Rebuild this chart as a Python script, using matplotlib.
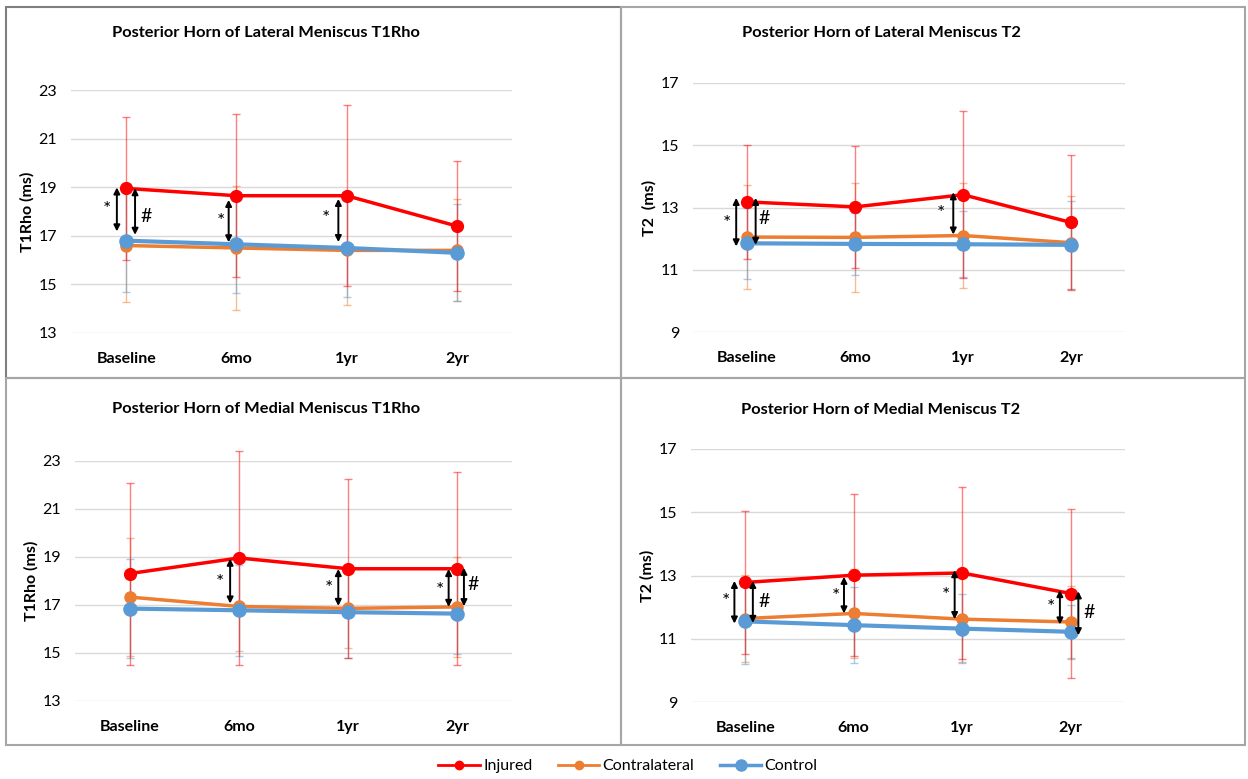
import matplotlib.pyplot as plt
from matplotlib.patches import Rectangle

plt.rcParams['font.family'] = ['Lato', 'DejaVu Sans']

W, H = 1248, 779
cats = ['Baseline', '6mo', '1yr', '2yr']

# Posterior horn of lateral meniscus, T1rho
lat_t1rho_inj = [18.95, 18.65, 18.65, 17.4]
lat_t1rho_inj_sd = [2.95, 3.35, 3.72, 2.67]
lat_t1rho_con = [16.6, 16.5, 16.4, 16.4]
lat_t1rho_con_sd = [2.33, 2.55, 2.24, 2.1]
lat_t1rho_ctl = [16.8, 16.65, 16.5, 16.3]
lat_t1rho_ctl_sd = [2.13, 2.0, 2.0, 2.0]

# Posterior horn of lateral meniscus, T2
lat_t2_inj = [13.18, 13.02, 13.41, 12.52]
lat_t2_inj_sd = [1.82, 1.96, 2.68, 2.18]
lat_t2_con = [12.05, 12.04, 12.1, 11.87]
lat_t2_con_sd = [1.66, 1.75, 1.7, 1.5]
lat_t2_ctl = [11.85, 11.83, 11.82, 11.8]
lat_t2_ctl_sd = [1.15, 1.0, 1.06, 1.42]

# Posterior horn of medial meniscus, T1rho
med_t1rho_inj = [18.31, 18.96, 18.51, 18.51]
med_t1rho_inj_sd = [3.79, 4.46, 3.73, 4.03]
med_t1rho_con = [17.33, 16.94, 16.86, 16.92]
med_t1rho_con_sd = [2.46, 1.87, 1.65, 2.08]
med_t1rho_ctl = [16.85, 16.78, 16.7, 16.64]
med_t1rho_ctl_sd = [2.05, 1.9, 1.9, 1.67]

# Posterior horn of medial meniscus, T2
med_t2_inj = [12.78, 13.01, 13.08, 12.43]
med_t2_inj_sd = [2.26, 2.57, 2.73, 2.66]
med_t2_con = [11.64, 11.8, 11.62, 11.53]
med_t2_con_sd = [1.37, 1.42, 1.37, 1.13]
med_t2_ctl = [11.55, 11.43, 11.32, 11.22]
med_t2_ctl_sd = [1.34, 1.2, 1.1, 0.86]

# significance marks: (x, y top, y bottom, symbol, symbol x, symbol y)
lat_t1rho_sig = [(-0.084, 18.99, 17.18, '*', -0.17, 18.1), (0.081, 18.96, 17.04, '#', 0.18, 17.8),
                 (0.93, 18.48, 16.73, '*', 0.86, 17.6), (1.925, 18.52, 16.74, '*', 1.81, 17.7)]
lat_t2_sig = [(-0.1, 13.31, 11.75, '*', -0.19, 12.48), (0.08, 13.31, 11.8, '#', 0.16, 12.64),
              (1.91, 13.49, 12.13, '*', 1.8, 12.82)]
med_t1rho_sig = [(0.92, 18.93, 17.06, '*', 0.83, 17.93), (1.91, 18.5, 16.96, '*', 1.82, 17.7),
                 (2.92, 18.5, 16.92, '*', 2.84, 17.6), (3.06, 18.55, 16.95, '#', 3.14, 17.85)]
med_t2_sig = [(-0.1, 12.83, 11.48, '*', -0.18, 12.17), (0.07, 12.83, 11.5, '#', 0.17, 12.17),
              (0.91, 12.96, 11.8, '*', 0.84, 12.35), (1.93, 13.17, 11.62, '*', 1.85, 12.37),
              (2.9, 12.54, 11.45, '*', 2.82, 12.0), (3.07, 12.5, 11.11, '#', 3.17, 11.83)]

RED, ORANGE, BLUE = '#ff0000', '#ed7d31', '#5b9bd5'

fig = plt.figure(figsize=(W / 100, H / 100), dpi=100)

# panel frames
for (x0, y0, x1, y1, ec) in [(6, 7, 621, 378, '#7f7f7f'), (621, 7, 1245, 378, '#a6a6a6'),
                             (6, 378, 621, 745, '#a6a6a6'), (621, 378, 1245, 745, '#a6a6a6')]:
    fig.patches.append(Rectangle((x0 / W, 1 - y1 / H), (x1 - x0) / W, (y1 - y0) / H,
                                 transform=fig.transFigure, fill=False, ec=ec, lw=1.5))


def panel(box, ylim, yticks, title, title_xy, ylabel, inj, con, ctl, sig):
    x0, x1, ytop, ybot = box
    ax = fig.add_axes([x0 / W, 1 - ybot / H, (x1 - x0) / W, (ybot - ytop) / H])
    xs = range(len(cats))
    for (vals, sd, col, ms, lw, z) in [(con[0], con[1], ORANGE, 8, 2.5, 3),
                                       (ctl[0], ctl[1], BLUE, 9.5, 3, 4),
                                       (inj[0], inj[1], RED, 8.5, 2.5, 5)]:
        eb = ax.errorbar(xs, vals, yerr=sd, fmt='none', ecolor=col, alpha=0.5,
                         elinewidth=1, capsize=3, capthick=1, zorder=2)
        for art in eb.lines[1] + eb.lines[2]:
            art.set_clip_on(False)
        ax.plot(xs, vals, color=col, marker='o', ms=ms, lw=lw, zorder=z)
    for (x, yt, yb, sym, sx, sy) in sig:
        ax.annotate('', xy=(x, yt), xytext=(x, yb),
                    arrowprops=dict(arrowstyle='<|-|>', color='black', lw=1.4,
                                    mutation_scale=9, shrinkA=0, shrinkB=0), zorder=6)
        ax.text(sx, sy, sym, ha='center', va='center', fontsize=14, zorder=6)
    ax.set_xlim(-0.5, 3.5)
    ax.set_ylim(*ylim)
    ax.set_yticks(yticks)
    ax.set_xticks(list(xs))
    ax.set_xticklabels(cats, fontweight='bold', fontsize=11)
    ax.tick_params(length=0, labelsize=11.5, pad=10)
    ax.tick_params(axis='x', pad=14)
    ax.grid(axis='y', color='#d9d9d9', lw=1)
    ax.set_axisbelow(True)
    for s in ax.spines.values():
        s.set_visible(False)
    ax.set_ylabel(ylabel, fontweight='bold', fontsize=11.5, labelpad=3)
    fig.text(title_xy[0] / W, 1 - title_xy[1] / H, title, ha='center', va='center',
             fontweight='bold', fontsize=11.8)
    return ax


panel((71, 512, 90, 333), (13, 23), [13, 15, 17, 19, 21, 23],
      'Posterior Horn of Lateral Meniscus T1Rho', (266, 33), 'T1Rho (ms)',
      (lat_t1rho_inj, lat_t1rho_inj_sd), (lat_t1rho_con, lat_t1rho_con_sd),
      (lat_t1rho_ctl, lat_t1rho_ctl_sd), lat_t1rho_sig)
panel((693, 1125, 83, 332), (9, 17), [9, 11, 13, 15, 17],
      'Posterior Horn of Lateral Meniscus T2', (881, 33), 'T2  (ms)',
      (lat_t2_inj, lat_t2_inj_sd), (lat_t2_con, lat_t2_con_sd),
      (lat_t2_ctl, lat_t2_ctl_sd), lat_t2_sig)
panel((75, 512, 461, 701), (13, 23), [13, 15, 17, 19, 21, 23],
      'Posterior Horn of Medial Meniscus T1Rho', (266, 409), 'T1Rho (ms)',
      (med_t1rho_inj, med_t1rho_inj_sd), (med_t1rho_con, med_t1rho_con_sd),
      (med_t1rho_ctl, med_t1rho_ctl_sd), med_t1rho_sig)
panel((691, 1125, 449, 702), (9, 17), [9, 11, 13, 15, 17],
      'Posterior Horn of Medial Meniscus T2', (881, 410), 'T2 (ms)',
      (med_t2_inj, med_t2_inj_sd), (med_t2_con, med_t2_con_sd),
      (med_t2_ctl, med_t2_ctl_sd), med_t2_sig)

# legend
handles = [plt.Line2D([], [], color=RED, marker='o', ms=6, lw=2),
           plt.Line2D([], [], color=ORANGE, marker='o', ms=6, lw=2),
           plt.Line2D([], [], color=BLUE, marker='o', ms=8, lw=2.5)]
fig.legend(handles, ['Injured', 'Contralateral', 'Control'], loc='center',
           bbox_to_anchor=(628 / W, 1 - 766 / H), ncol=3, frameon=False, fontsize=11.5,
           handlelength=2.6, handletextpad=0.2, columnspacing=1.6)

fig.savefig('out.png', dpi=100, facecolor='white')
